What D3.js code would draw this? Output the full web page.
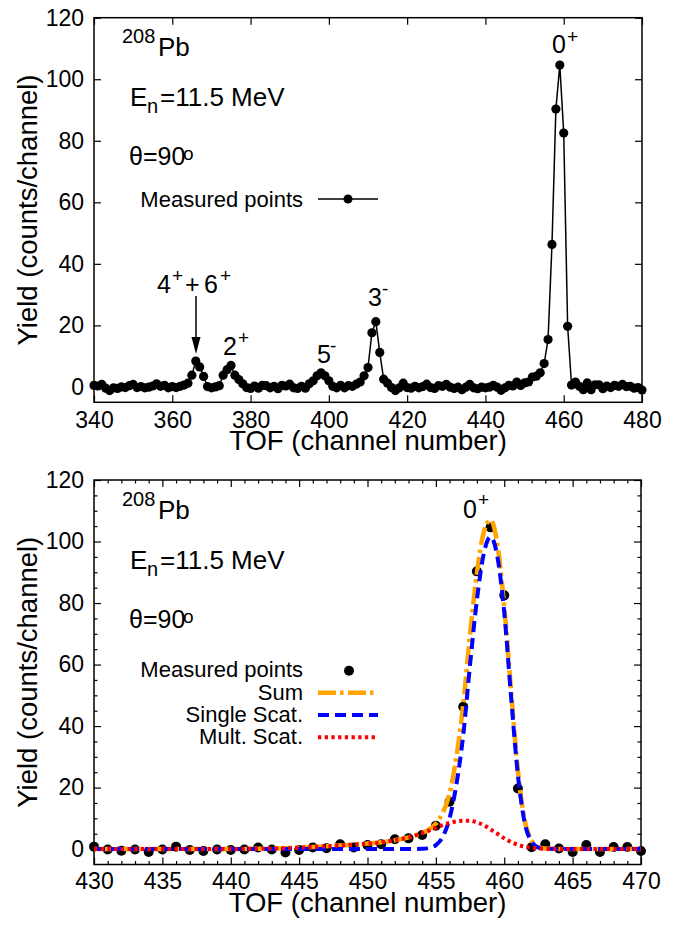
<!DOCTYPE html>
<html><head><meta charset="utf-8">
<script src="https://cdn.jsdelivr.net/npm/d3@7"></script>
<style>body{margin:0;background:#fff}svg{display:block}text{font-family:"Liberation Sans",Arial,Helvetica,sans-serif;fill:#000}</style>
</head><body><svg id="c" width="689" height="925"></svg>
<script>
// ---------- data ----------
const firstChannel = 340;
const measuredYield = [
 0.5, 0.3, 0.8,-0.4,-1.2,-0.3,-0.5, 0.0,-0.2, 0.4,   // 340-349
 0.8,-0.2, 0.1,-0.3,-0.1, 0.3, 1.0, 0.2, 0.5,-0.3,   // 350-359
 0.1,-0.2, 0.2, 0.6, 1.2, 3.8, 8.4, 6.5, 3.4, 0.1,   // 360-369
-0.3, 0.0, 0.4, 3.8, 5.6, 7.0, 3.8, 2.4, 1.0,-0.2,   // 370-379
-0.5, 0.3,-0.4, 0.5, 0.4,-0.3, 0.2,-0.6, 0.5, 0.3,   // 380-389
 0.9,-0.3,-0.5, 0.2,-0.4, 1.0, 2.0, 3.6, 4.6, 3.6,   // 390-399
 2.0, 0.2,-0.3, 0.5,-0.3, 0.4, 0.2, 0.9, 1.6, 3.6,   // 400-409
 6.3,17.6,21.2,11.2, 2.5, 1.2,-0.2,-1.2,-0.3, 1.2,   // 410-419
-0.2,-0.4, 0.2,-0.3, 0.1, 0.9,-0.2,-0.5, 0.4, 0.2,   // 420-429
 0.8,-0.1,-0.5,-0.1,-0.9,-0.1, 0.8,-0.3,-0.6,-0.1,   // 430-439
-0.3,-0.1, 0.5,-0.1,-1.1,-0.3, 0.5, 0.3, 1.6, 0.5,   // 440-449
 1.3, 1.6, 3.2, 3.5, 4.6, 7.6,15.4,46.3,90.3,104.6,  // 450-459
82.5,19.7, 0.6, 1.6, 0.2,-0.9, 1.3,-0.9, 0.7, 0.7,   // 460-469
-0.6, 0.3,-0.2, 0.5, 0.2, 0.8, 0.1, 0.2,-0.4,-0.2,   // 470-479
-1.0                                                 // 480
];
const fitChannels = [430,435,440,444,446,448,450,451,452,453,454,454.5,455,455.5,456,456.5,457,457.5,458,458.5,459,459.5,460,460.5,461,461.5,462,462.5,463,465,470];
const fitSum    = [0,0,0.05,0.3,0.7,1.2,1.8,2.2,2.9,3.8,5.3,6.4,8.3,11.8,18,30,47,70,89.7,103,107,99,79,51.5,25.5,9.3,2.8,0.7,0.2,0,0];
const fitSingle = [0,0,0,0,0,0,0,0,0,0,0.1,0.4,1.3,4.0,10,21,37,60,81,96,101.5,95,77,49.5,24,8.5,2.4,0.5,0.1,0,0];
const fitMult   = [0,0,0.05,0.3,0.7,1.2,1.8,2.2,2.9,3.8,5.2,6.0,7.0,7.8,8.5,9.0,9.2,9.2,8.7,7.8,6.4,5.0,3.5,2.3,1.4,0.8,0.4,0.2,0.1,0,0];

const yTicks = [0,20,40,60,80,100,120];
const yMinorTicks = [5,10,15,25,30,35,45,50,55,65,70,75,85,90,95,105,110,115];
const xTicksTop = [340,360,380,400,420,440,460,480];
const xTicksBottom = [430,435,440,445,450,455,460,465,470];
const xMinorBottom = [431,432,433,434,436,437,438,439,441,442,443,444,446,447,448,449,451,452,453,454,456,457,458,459,461,462,463,464,466,467,468,469];

const legendBottom = [
  {label:"Sum", color:"#FFA500", dash:"18,4,3.5,4.5", width:4.5},
  {label:"Single Scat.", color:"#0000FF", dash:"11,6", width:4},
  {label:"Mult. Scat.", color:"#FF0000", dash:"3.3,3.4", width:4}
];

const points = measuredYield.map((v,i)=>({ch:firstChannel+i, v}));
const svg = d3.select("#c");
const TICK_FONT = 23, TITLE_FONT = 27.5, ANN_FONT = 25, SUP_FONT = 19;

function drawAxes(g, x, y, xTicks, xMinor, yMinor, left, right, top, bottom, pad) {
  const styleAxis = sel => {
    sel.select(".domain").remove();
    sel.selectAll(".tick line").attr("stroke","#000").attr("stroke-width",1.2);
    sel.selectAll("text").attr("font-size",TICK_FONT).attr("font-family",'"Liberation Sans",Arial,sans-serif').attr("fill","#000");
  };
  g.append("g").attr("transform",`translate(0,${bottom})`)
    .call(d3.axisBottom(x).tickValues(xTicks).tickSizeInner(-7).tickSizeOuter(0).tickPadding(pad).tickFormat(d3.format("d"))).call(styleAxis);
  g.append("g").attr("transform",`translate(0,${top})`)
    .call(d3.axisTop(x).tickValues(xTicks).tickSizeInner(-7).tickSizeOuter(0).tickFormat("")).call(styleAxis);
  g.append("g").attr("transform",`translate(${left},0)`)
    .call(d3.axisLeft(y).tickValues(yTicks).tickSizeInner(-7).tickSizeOuter(0).tickPadding(10).tickFormat(d3.format("d"))).call(styleAxis);
  g.append("g").attr("transform",`translate(${right},0)`)
    .call(d3.axisRight(y).tickValues(yTicks).tickSizeInner(-7).tickSizeOuter(0).tickFormat("")).call(styleAxis);
  if (xMinor) {
    g.append("g").attr("transform",`translate(0,${bottom})`).call(d3.axisBottom(x).tickValues(xMinor).tickSizeInner(-3.5).tickSizeOuter(0).tickFormat("")).call(styleAxis);
    g.append("g").attr("transform",`translate(0,${top})`).call(d3.axisTop(x).tickValues(xMinor).tickSizeInner(-3.5).tickSizeOuter(0).tickFormat("")).call(styleAxis);
  }
  if (yMinor) {
    g.append("g").attr("transform",`translate(${left},0)`).call(d3.axisLeft(y).tickValues(yMinor).tickSizeInner(-3.5).tickSizeOuter(0).tickFormat("")).call(styleAxis);
    g.append("g").attr("transform",`translate(${right},0)`).call(d3.axisRight(y).tickValues(yMinor).tickSizeInner(-3.5).tickSizeOuter(0).tickFormat("")).call(styleAxis);
  }
  g.append("rect").attr("x",left).attr("y",top).attr("width",right-left).attr("height",bottom-top)
    .attr("fill","none").attr("stroke","#000").attr("stroke-width",1.5);
}

function txt(g, x, y, s, size, anchor) {
  return g.append("text").attr("x",x).attr("y",y).attr("font-size",size).attr("text-anchor",anchor||"start").text(s);
}

function headerTexts(g, dy) {
  txt(g,122,43+dy,"208",20);
  txt(g,158,56+dy,"Pb",26);
  txt(g,130,106+dy,"E",26);
  txt(g,147,113+dy,"n",20);
  txt(g,160,106+dy,"=11.5 MeV",26);
  txt(g,129,165+dy,"θ",25);
  txt(g,143,165+dy,"=90",25);
  txt(g,183,160+dy,"o",19);
}

// ---------- top panel ----------
{
  const L=94, R=642, T=17.7, B=402.3;
  const x = d3.scaleLinear().domain([340,480]).range([L,R]);
  const y = d3.scaleLinear().domain([-5,120]).range([B,T]);
  const g = svg.append("g");
  drawAxes(g,x,y,xTicksTop,null,null,L,R,T,B,9);
  const line = d3.line().x(d=>x(d.ch)).y(d=>y(d.v));
  g.append("path").datum(points).attr("d",line).attr("fill","none").attr("stroke","#000").attr("stroke-width",1.5);
  g.selectAll("circle.pt").data(points).join("circle").attr("class","pt")
    .attr("cx",d=>x(d.ch)).attr("cy",d=>y(d.v)).attr("r",4.6).attr("fill","#000");
  headerTexts(g,0);
  // legend
  txt(g,303,207,"Measured points",22,"end");
  g.append("line").attr("x1",318).attr("x2",378).attr("y1",199).attr("y2",199).attr("stroke","#000").attr("stroke-width",1.5);
  g.append("circle").attr("cx",348).attr("cy",199).attr("r",4.5).attr("fill","#000");
  // state labels
  txt(g,552,53,"0",ANN_FONT); txt(g,567,43,"+",SUP_FONT);
  txt(g,157,293,"4",ANN_FONT); txt(g,172,282,"+",SUP_FONT); txt(g,185,293,"+",ANN_FONT); txt(g,204,293,"6",ANN_FONT); txt(g,220,282,"+",SUP_FONT);
  txt(g,223,355,"2",ANN_FONT); txt(g,238,344,"+",SUP_FONT);
  txt(g,317,362.5,"5",ANN_FONT); txt(g,330,352,"-",SUP_FONT);
  txt(g,368,306,"3",ANN_FONT); txt(g,382,295,"-",SUP_FONT);
  // arrow
  g.append("line").attr("x1",196).attr("x2",196).attr("y1",296).attr("y2",340).attr("stroke","#000").attr("stroke-width",1.5);
  g.append("path").attr("d","M196,354 L191.5,337 L200.5,337 Z").attr("fill","#000");
  // axis titles
  txt(g,(L+R)/2,450,"TOF (channel number)",TITLE_FONT,"middle");
  g.append("text").attr("transform",`translate(37,${(T+B)/2}) rotate(-90)`).attr("text-anchor","middle").attr("font-size",TITLE_FONT).text("Yield (counts/channel)");
}

// ---------- bottom panel ----------
{
  const L=94, R=641, T=480, B=864.5, dy=462.5;
  const x = d3.scaleLinear().domain([430,470]).range([L,R]);
  const y = d3.scaleLinear().domain([-5,120]).range([B,T]);
  const g = svg.append("g");
  drawAxes(g,x,y,xTicksBottom,xMinorBottom,yMinorTicks,L,R,T,B,8);
  const sub = points.filter(d=>d.ch>=430 && d.ch<=470);
  g.selectAll("circle.pt").data(sub).join("circle").attr("class","pt")
    .attr("cx",d=>x(d.ch)).attr("cy",d=>y(d.v)).attr("r",5).attr("fill","#000");
  const fits = [fitSum, fitSingle, fitMult];
  const line = d3.line().x(d=>x(d[0])).y(d=>y(d[1])).curve(d3.curveMonotoneX);
  fits.forEach((f,i)=>{
    const st = legendBottom[i];
    g.append("path").datum(fitChannels.map((c,j)=>[c,f[j]])).attr("d",line)
      .attr("fill","none").attr("stroke",st.color).attr("stroke-width",st.width).attr("stroke-dasharray",st.dash);
  });
  headerTexts(g,dy);
  txt(g,463,517.5,"0",ANN_FONT); txt(g,478,506,"+",SUP_FONT);
  // legend
  txt(g,303,677.3,"Measured points",22,"end");
  g.append("circle").attr("cx",349).attr("cy",670.7).attr("r",5).attr("fill","#000");
  legendBottom.forEach((st,i)=>{
    const by = 699.5 + i*22.3;
    txt(g,303,by,st.label,22,"end");
    g.append("line").attr("x1",318).attr("x2",378).attr("y1",by-6.8).attr("y2",by-6.8)
      .attr("stroke",st.color).attr("stroke-width",st.width).attr("stroke-dasharray",st.dash);
  });
  txt(g,(L+R)/2,912,"TOF (channel number)",TITLE_FONT,"middle");
  g.append("text").attr("transform",`translate(37,${(T+B)/2}) rotate(-90)`).attr("text-anchor","middle").attr("font-size",TITLE_FONT).text("Yield (counts/channel)");
}
</script></body></html>
